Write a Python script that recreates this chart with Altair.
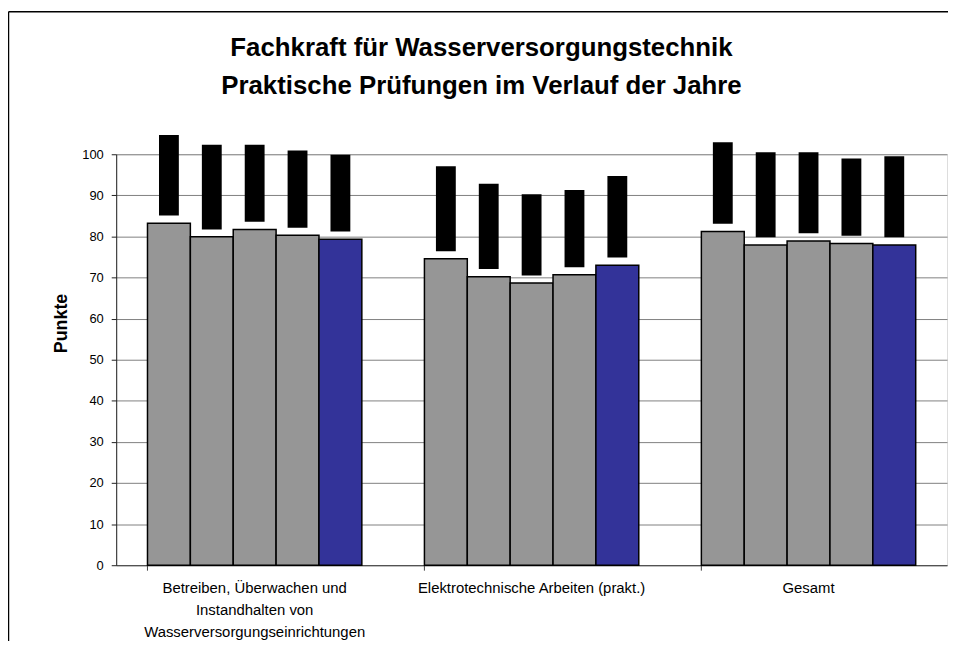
import altair as alt
import pandas as pd

categories = [
    "Betreiben, Überwachen und|Instandhalten von|Wasserversorgungseinrichtungen",
    "Elektrotechnische Arbeiten (prakt.)",
    "Gesamt",
]
years = ["Jahr 1", "Jahr 2", "Jahr 3", "Jahr 4", "Jahr 5"]

# mean score (bars)
mean_1 = [83.2, 79.9, 81.7, 80.3, 79.3]
mean_2 = [74.6, 70.2, 68.7, 70.7, 73.0]
mean_3 = [81.2, 77.9, 78.9, 78.3, 77.9]
# black range bars (low / high)
low_1 = [85.1, 81.7, 83.6, 82.1, 81.2]
high_1 = [104.7, 102.3, 102.3, 100.9, 99.9]
low_2 = [76.4, 72.1, 70.5, 72.5, 74.9]
high_2 = [97.1, 92.8, 90.3, 91.3, 94.7]
low_3 = [83.1, 79.8, 80.8, 80.2, 79.8]
high_3 = [102.9, 100.5, 100.5, 99.0, 99.5]

bar_colors = ["#969696", "#969696", "#969696", "#969696", "#333399"]

title_line_1 = "Fachkraft für Wasserversorgungstechnik"
title_line_2 = "Praktische Prüfungen im Verlauf der Jahre"

rows = []
for cat, means, lows, highs in zip(
    categories, [mean_1, mean_2, mean_3], [low_1, low_2, low_3], [high_1, high_2, high_3]
):
    for yr, m, lo, hi in zip(years, means, lows, highs):
        rows.append({"cat": cat, "year": yr, "mean": m, "low": lo, "high": hi})
df = pd.DataFrame(rows)

FONT = "Liberation Sans"

xscale = alt.Scale(paddingInner=0.226, paddingOuter=0.113)
yscale = alt.Scale(domain=[0, 100], nice=False)

yaxis = alt.Axis(
    title="Punkte",
    values=list(range(0, 101, 10)),
    titleFont=FONT,
    titleFontSize=18,
    titleFontWeight="bold",
    titleColor="black",
    titlePadding=11,
    titleY=170,
    labelFont=FONT,
    labelFontSize=13,
    labelColor="black",
    labelPadding=8,
    tickSize=5,
    tickColor="#202020",
    domainColor="#202020",
    gridColor="#808080",
    gridWidth=1,
)

bars = alt.Chart(df).mark_bar(stroke="black", strokeWidth=1.5).encode(
    x=alt.X(
        "cat:N",
        sort=categories,
        scale=xscale,
        title=None,
        axis=alt.Axis(
            orient="bottom",
            labelAngle=0,
            labelExpr="split(datum.label, '|')",
            labelFont=FONT,
            labelFontSize=15,
            labelColor="black",
            labelLineHeight=22,
            labelBaseline="top",
            labelPadding=16,
            ticks=False,
            tickSize=0,
            domainColor="#404040",
            domainWidth=1,
            labelLimit=400,
        ),
    ),
    xOffset=alt.XOffset("year:N", sort=years, scale=alt.Scale(paddingInner=0, paddingOuter=0)),
    y=alt.Y("mean:Q", scale=yscale, axis=yaxis),
    color=alt.Color("year:N", sort=years, scale=alt.Scale(domain=years, range=bar_colors), legend=None),
)

black = alt.Chart(df).mark_bar(color="black").encode(
    x=alt.X(
        "cat:N",
        sort=categories,
        scale=xscale,
        title=None,
        axis=alt.Axis(
            orient="bottom",
            labels=False,
            domain=False,
            ticks=True,
            tickSize=5,
            tickColor="#404040",
            bandPosition=0,
            grid=False,
        ),
    ),
    xOffset=alt.XOffset("year:N", sort=years, scale=alt.Scale(paddingInner=0.537, paddingOuter=0.2685)),
    y=alt.Y("low:Q", scale=yscale, axis=yaxis),
    y2="high:Q",
)

frame = pd.DataFrame({"k": [0]})
border_left = alt.Chart(frame).mark_rule(color="black", strokeWidth=1.5).encode(
    x=alt.value(-108.5), y=alt.value(-143.5), y2=alt.value(520)
)
border_top = alt.Chart(frame).mark_rule(color="black", strokeWidth=1.5).encode(
    x=alt.value(-108.5), x2=alt.value(900), y=alt.value(-143.5)
)


def title_line(txt, ypos):
    return alt.Chart(pd.DataFrame({"t": [txt]})).mark_text(
        font=FONT, fontSize=26, fontWeight="bold", color="black", align="center", baseline="alphabetic"
    ).encode(text="t:N", x=alt.value(368), y=alt.value(ypos))


t1 = title_line(title_line_1, 54 - 153)
t2 = title_line(title_line_2, 92 - 153)

chart = (
    alt.layer(bars, black, border_left, border_top, t1, t2)
    .resolve_axis(x="independent")
    .resolve_scale(xOffset="independent")
    .properties(
        width=837,
        height=414,
        autosize="none",
        padding={"left": 109, "top": 145, "right": 1, "bottom": 74},
    )
    .configure_view(stroke="#808080", strokeWidth=1)
    .configure(background="white")
)

chart.save("out.html", embed_options={"renderer": "svg", "actions": False})
